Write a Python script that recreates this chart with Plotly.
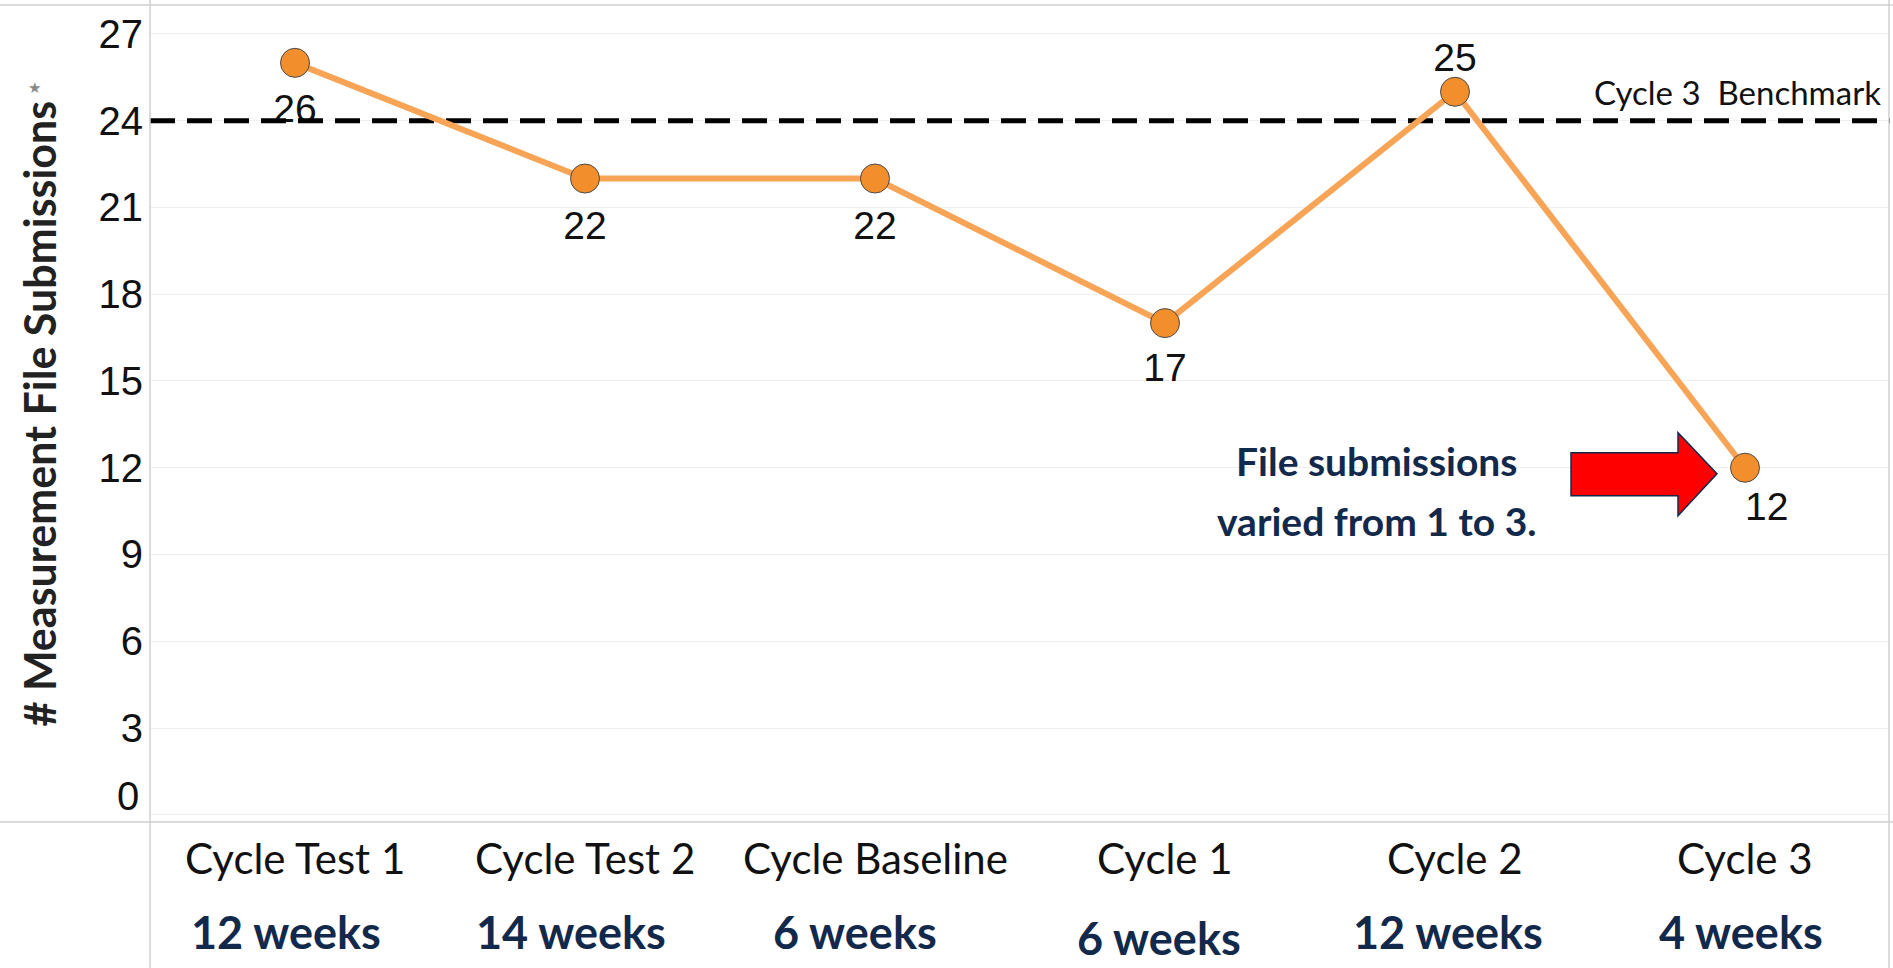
import plotly.graph_objects as go

# ---- data ----
categories = ["Cycle Test 1", "Cycle Test 2", "Cycle Baseline", "Cycle 1", "Cycle 2", "Cycle 3"]
durations = ["12 weeks", "14 weeks", "6 weeks", "6 weeks", "12 weeks", "4 weeks"]
submissions = [26, 22, 22, 17, 25, 12]
benchmark = 24
benchmark_label = "Cycle 3\u00a0 Benchmark"
note_lines = ["File submissions", "varied from 1 to 3."]
y_ticks = list(range(0, 28, 3))

x_idx = list(range(len(categories)))

NAVY = "#13294B"
LINE_C = "#F8A457"
MARK_C = "#F28E2B"

W, H = 1893, 968
ML, MR, MT, MB = 150, 3, 5, 146
PW = W - ML - MR
PH = H - MT - MB

fig = go.Figure()

# value labels (drawn first so the benchmark dash passes over them)
label_pos = ["bottom center"] * len(submissions)
label_pos[4] = "top center"
label_size = [47, 48, 48, 45, 16, 36]
label_text = [str(v) for v in submissions]
label_text[5] = "\u00a0\u00a0\u00a0\u00a0" + label_text[5]
fig.add_trace(go.Scatter(
    x=x_idx, y=submissions, mode="markers+text",
    marker=dict(size=label_size, opacity=0),
    text=label_text, textposition=label_pos,
    textfont=dict(family="Liberation Sans", size=39, color="#111111"),
    hoverinfo="skip", showlegend=False,
))

# benchmark line
fig.add_trace(go.Scatter(
    x=[-0.5, len(categories) - 0.5], y=[benchmark, benchmark], mode="lines",
    line=dict(color="black", width=5, dash="25px,12px"),
    hoverinfo="skip", showlegend=False,
))

# main series
fig.add_trace(go.Scatter(
    x=x_idx, y=submissions, mode="lines+markers",
    line=dict(color=LINE_C, width=6),
    marker=dict(size=29, color=MARK_C, line=dict(color="#4a4a4a", width=1)),
    showlegend=False,
))

annotations = []
# category labels and durations
dur_shift_x = [-9, -14, -20, -6, -7, -4]
dur_shift_y = [-110, -110, -110, -116, -110, -110]
for i, (c, d) in enumerate(zip(categories, durations)):
    annotations.append(dict(
        x=i, y=0, xref="x", yref="paper", text=c, showarrow=False,
        xanchor="center", yanchor="middle", yshift=-36,
        font=dict(family="Lato", size=42, color="#111111"),
    ))
    annotations.append(dict(
        x=i, y=0, xref="x", yref="paper", text="<b>%s</b>" % d, showarrow=False,
        xanchor="center", yanchor="middle", yshift=dur_shift_y[i], xshift=dur_shift_x[i],
        font=dict(family="Lato", size=45, color=NAVY),
    ))

# zero tick label (lifted above the axis line as in the original)
annotations.append(dict(
    x=0, y=y_ticks[0], xref="paper", yref="y", text=str(y_ticks[0]), showarrow=False,
    xanchor="right", yanchor="middle", xshift=-9, yshift=19,
    font=dict(family="Liberation Sans", size=40, color="#111111"),
))

# benchmark label
annotations.append(dict(
    x=1, y=benchmark, xref="paper", yref="y", text=benchmark_label, showarrow=False,
    xanchor="right", yanchor="bottom", yshift=7, xshift=-7,
    font=dict(family="Lato", size=33, color="#111111"),
))

# note (two lines)
for line_txt, ys in zip(note_lines, [30, -30]):
    annotations.append(dict(
        x=3.73, y=11.2, xref="x", yref="y", text="<b>%s</b>" % line_txt, showarrow=False,
        xanchor="center", yanchor="middle", yshift=ys,
        font=dict(family="Lato", size=39, color=NAVY),
    ))

# y-axis title
annotations.append(dict(
    x=0, y=0.5, xref="paper", yref="paper", text="<b># Measurement File Submissions</b>",
    showarrow=False, textangle=-90, xanchor="center", yanchor="middle",
    xshift=-111, yshift=0,
    font=dict(family="Lato", size=43, color="#222222"),
))
annotations.append(dict(
    x=0, y=0.5, xref="paper", yref="paper", text="\u2605", showarrow=False,
    xanchor="center", yanchor="middle", xshift=-116, yshift=326,
    font=dict(family="DejaVu Sans", size=15, color="#8a8a8a"),
))

shapes = []
# red block arrow anchored at the last point
shapes.append(dict(
    type="path", xref="x", yref="y", xsizemode="pixel", ysizemode="pixel",
    xanchor=x_idx[-1], yanchor=submissions[-1],
    path="M-174,15 L-67,15 L-67,35 L-28,-6 L-67,-48 L-67,-28 L-174,-28 Z",
    fillcolor="#FF0000", line=dict(color=NAVY, width=1.5), layer="above",
))
# frame lines
fx0 = -ML / PW
fx1 = 1 + MR / PW
fy0 = -MB / PH
fy1 = 1 + MT / PH
GRAY = "#cfcfcf"
shapes += [
    dict(type="line", xref="paper", yref="paper", x0=fx0, x1=fx1, y0=0, y1=0, line=dict(color=GRAY, width=1.5)),
    dict(type="line", xref="paper", yref="paper", x0=fx0, x1=fx1, y0=1, y1=1, line=dict(color=GRAY, width=1.5)),
    dict(type="line", xref="paper", yref="paper", x0=0, x1=0, y0=fy0, y1=fy1, line=dict(color=GRAY, width=1.5)),
    dict(type="line", xref="paper", yref="paper", x0=1 - 1 / PW, x1=1 - 1 / PW, y0=fy0, y1=fy1, line=dict(color=GRAY, width=1.5)),
]

tick_text = [str(v) for v in y_ticks]
tick_text[0] = ""

fig.update_layout(
    width=W, height=H,
    margin=dict(l=ML, r=MR, t=MT, b=MB),
    paper_bgcolor="white", plot_bgcolor="white",
    annotations=annotations, shapes=shapes,
    xaxis=dict(range=[-0.5, len(categories) - 0.5], showticklabels=False, showgrid=False,
               zeroline=False, showline=False, fixedrange=True),
    yaxis=dict(range=[-0.25, 28.0], tickvals=y_ticks, ticktext=tick_text, showgrid=True,
               gridcolor="#efefef", gridwidth=1, zeroline=False, showline=False, ticks="",
               tickfont=dict(family="Liberation Sans", size=40, color="#111111"),
               ticklabelstandoff=6),
    hovermode=False,
)

fig.write_html("out.html", config={"displayModeBar": False},
               post_script="document.body.style.margin='0px';document.body.style.overflow='hidden';")
